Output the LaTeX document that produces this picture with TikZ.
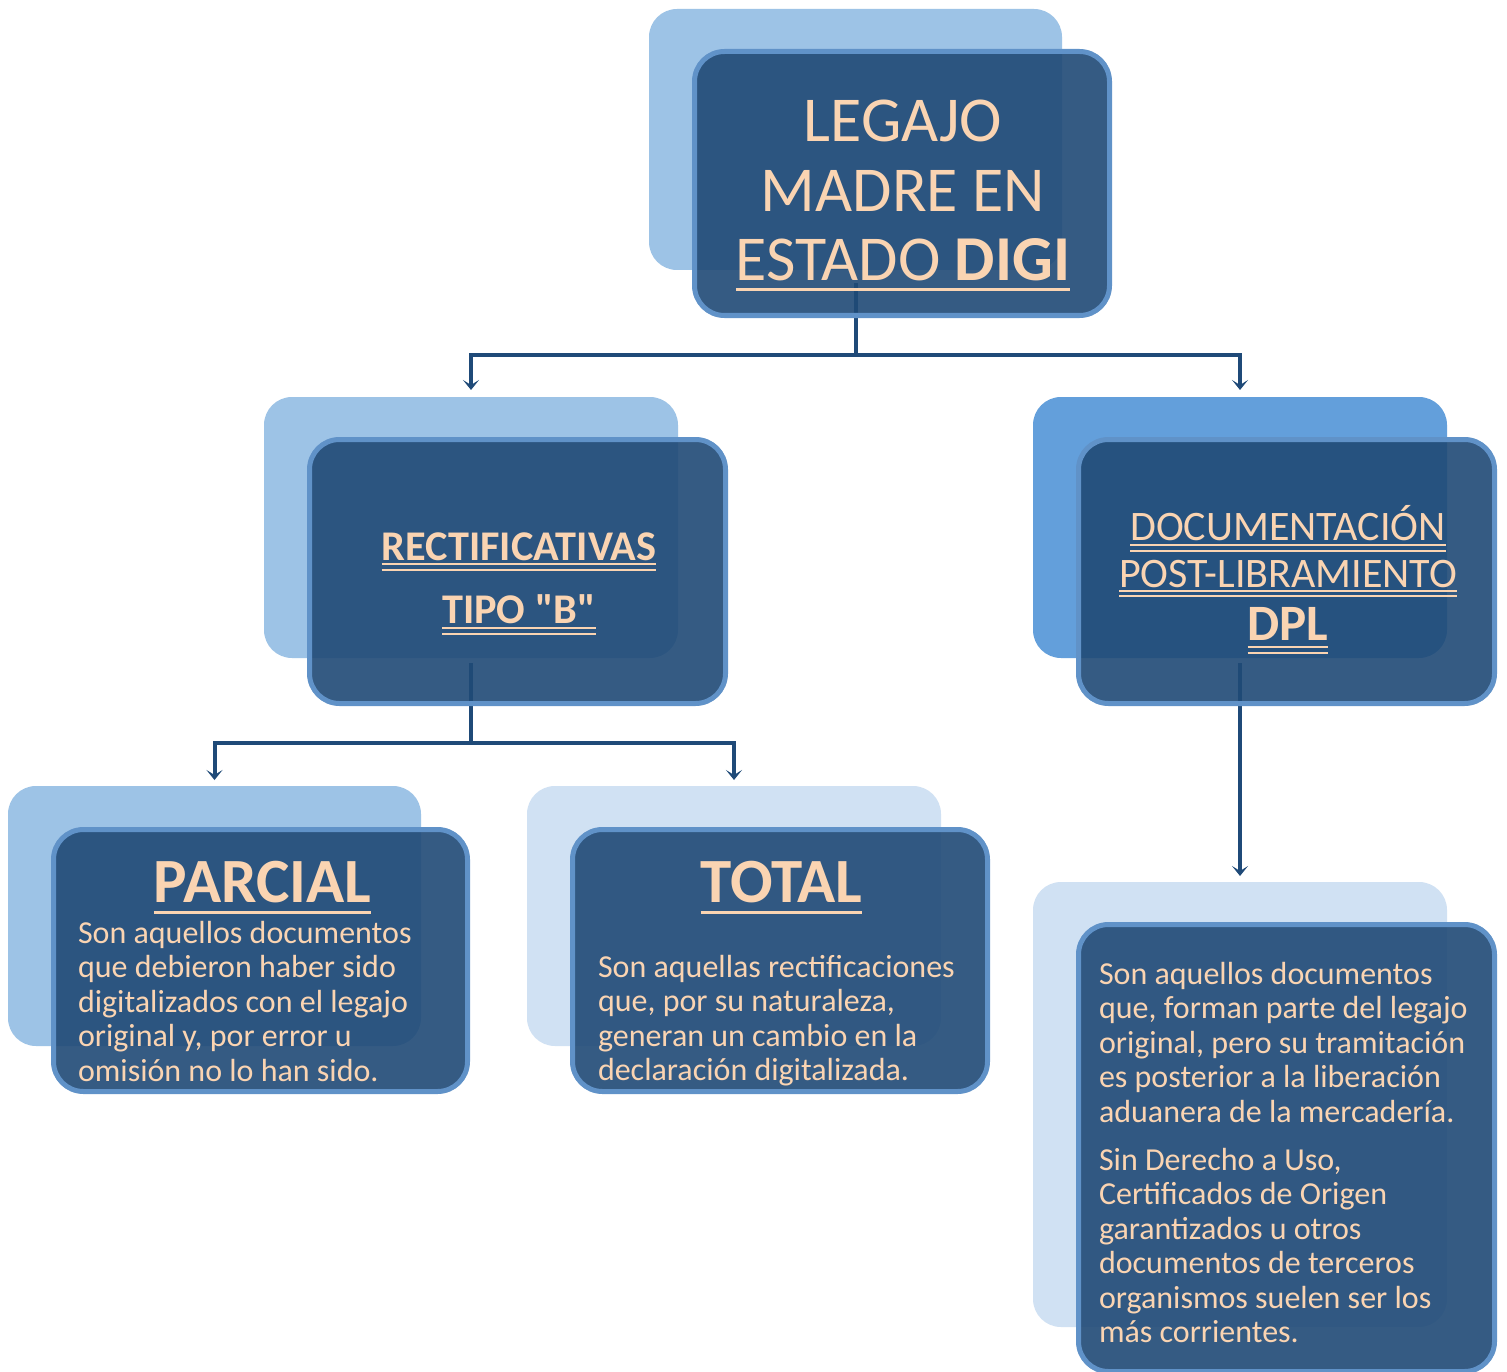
\documentclass[tikz,border=0pt]{standalone}
\usepackage{fontspec}
\setmainfont{Carlito}[Ligatures=TeXOff]
\usetikzlibrary{arrows.meta}
\definecolor{backA}{RGB}{157,195,230}
\definecolor{backB}{RGB}{99,159,219}
\definecolor{backC}{RGB}{208,225,243}
\definecolor{frontfill}{RGB}{32,74,118}
\definecolor{frontline}{RGB}{96,146,200}
\definecolor{peach}{RGB}{250,212,178}
\definecolor{connc}{RGB}{31,74,120}
\newcommand\dul[3]{%
  \draw[ulthin] ([yshift=-#2pt]#1.base west) -- ([yshift=-#2pt]#1.base east);
  \draw[ulthin] ([yshift=-#3pt]#1.base west) -- ([yshift=-#3pt]#1.base east);}
\begin{document}
\begin{tikzpicture}[x=1pt,y=-1pt,
  backbox/.style={rectangle, rounded corners=28pt, inner sep=0pt, outer sep=0pt, draw=none},
  frontbox/.style={rectangle, rounded corners=30pt, inner sep=0pt, outer sep=0pt,
     fill=frontfill, fill opacity=0.9, draw=frontline, line width=5pt},
  conn/.style={draw=connc, line width=4pt, -{Stealth[length=10pt,width=16pt,inset=5pt]}},
  plain/.style={draw=connc, line width=4pt},
  lbl/.style={inner sep=0pt, outer sep=0pt, text=peach, anchor=base},
  body/.style={inner sep=0pt, outer sep=0pt, text=peach, anchor=north west, align=left,
     font=\fontsize{32}{34.5}\selectfont},
  ulthick/.style={draw=peach, line width=3pt},
  ulthin/.style={draw=peach, line width=2pt}
]
\useasboundingbox (0,0) rectangle (1507,1372);
\fill[white] (0,0) rectangle (1507,1372);

% back boxes
\node[backbox, fill=backA, minimum width=413pt, minimum height=261pt] (topback) at (855.5,139.5) {};
\node[backbox, fill=backA, minimum width=414pt, minimum height=261pt] (rectback) at (471,527.5) {};
\node[backbox, fill=backB, minimum width=414pt, minimum height=261pt] (dplback) at (1240,527.5) {};
\node[backbox, fill=backA, minimum width=413pt, minimum height=260pt] (parback) at (214.5,916) {};
\node[backbox, fill=backC, minimum width=414pt, minimum height=260pt] (totback) at (734,916) {};
\node[backbox, fill=backC, minimum width=414pt, minimum height=445pt] (descback) at (1240,1104.5) {};

% connectors
\draw[plain] ([yshift=-13pt]topback.south) -- ([yshift=-85pt]topback.south);
\draw[conn] ([yshift=-85pt]topback.south) -| ([yshift=7pt]rectback.north);
\draw[conn] ([yshift=-85pt]topback.south) -| ([yshift=7pt]dplback.north);
\draw[plain] ([yshift=-5pt]rectback.south) -- ([yshift=-85pt]rectback.south);
\draw[conn] ([yshift=-85pt]rectback.south) -| ([yshift=6pt]parback.north);
\draw[conn] ([yshift=-85pt]rectback.south) -| ([yshift=6pt]totback.north);
\draw[conn] ([yshift=-5pt]dplback.south) -- ([yshift=6pt]descback.north);

% front boxes
\node[frontbox, minimum width=415pt, minimum height=264pt] (topfront) at (902,183.5) {};
\node[frontbox, minimum width=416pt, minimum height=264pt] (rectfront) at (517.5,571.5) {};
\node[frontbox, minimum width=416pt, minimum height=264pt] (dplfront) at (1286.5,571.5) {};
\node[frontbox, minimum width=414pt, minimum height=262pt] (parfront) at (260.5,960.5) {};
\node[frontbox, minimum width=415pt, minimum height=262pt] (totfront) at (780,960.5) {};
\node[frontbox, minimum width=416pt, minimum height=447pt] (descfront) at (1286.5,1148) {};

% top title
\node[lbl, font=\fontsize{64}{70}\selectfont] (t1) at (903,142) {LEGAJO};
\node[lbl, font=\fontsize{64}{70}\selectfont] (t2) at (903,212) {MADRE EN};
\node[lbl, font=\fontsize{64}{70}\selectfont] (t3) at (903,280) {ESTADO \textbf{DIGI}};
\draw[ulthick] ([yshift=-10pt]t3.base west) -- ([yshift=-10pt]t3.base east);

% rectificativas
\node[lbl, font=\fontsize{42.3}{46}\selectfont\bfseries] (r1) at (519,560) {RECTIFICATIVAS};
\node[lbl, font=\fontsize{42.3}{46}\selectfont\bfseries] (r2) at (519,623) {TIPO "B"};
\dul{r1}{3.5}{10}
\dul{r2}{5}{11}

% DPL
\node[lbl, font=\fontsize{42}{46}\selectfont] (d1) at (1288,540) {DOCUMENTACIÓN};
\node[lbl, font=\fontsize{42}{46}\selectfont] (d2) at (1288,587) {POST-LIBRAMIENTO};
\node[lbl, font=\fontsize{51}{55}\selectfont\bfseries] (d3) at (1288,640) {DPL};
\dul{d1}{4.5}{10.5}
\dul{d2}{4}{9}
\dul{d3}{7}{13}

% PARCIAL
\node[lbl, font=\fontsize{63}{66}\selectfont\bfseries] (p1) at (262.5,902) {PARCIAL};
\draw[ulthick] ([yshift=-10pt]p1.base west) -- ([yshift=-10pt]p1.base east);
\node[body] (pbody) at (78,919) {\rule{0pt}{24pt}Son aquellos documentos\\que debieron haber sido\\digitalizados con el legajo\\original y, por error u\\omisión no lo han sido.};

% TOTAL
\node[lbl, font=\fontsize{63}{66}\selectfont\bfseries] (q1) at (781.5,902) {TOTAL};
\draw[ulthick] ([yshift=-10pt]q1.base west) -- ([yshift=-10pt]q1.base east);
\node[body] (qbody) at (598,953) {\rule{0pt}{24pt}Son aquellas rectificaciones\\que, por su naturaleza,\\generan un cambio en la\\declaración digitalizada.};

% description
\node[body] (dbody) at (1099,960) {\rule{0pt}{24pt}Son aquellos documentos\\que, forman parte del legajo\\original, pero su tramitación\\es posterior a la liberación\\aduanera de la mercadería.\\[13.5pt]Sin Derecho a Uso,\\Certificados de Origen\\garantizados u otros\\documentos de terceros\\organismos suelen ser los\\más corrientes.};
\end{tikzpicture}
\end{document}
